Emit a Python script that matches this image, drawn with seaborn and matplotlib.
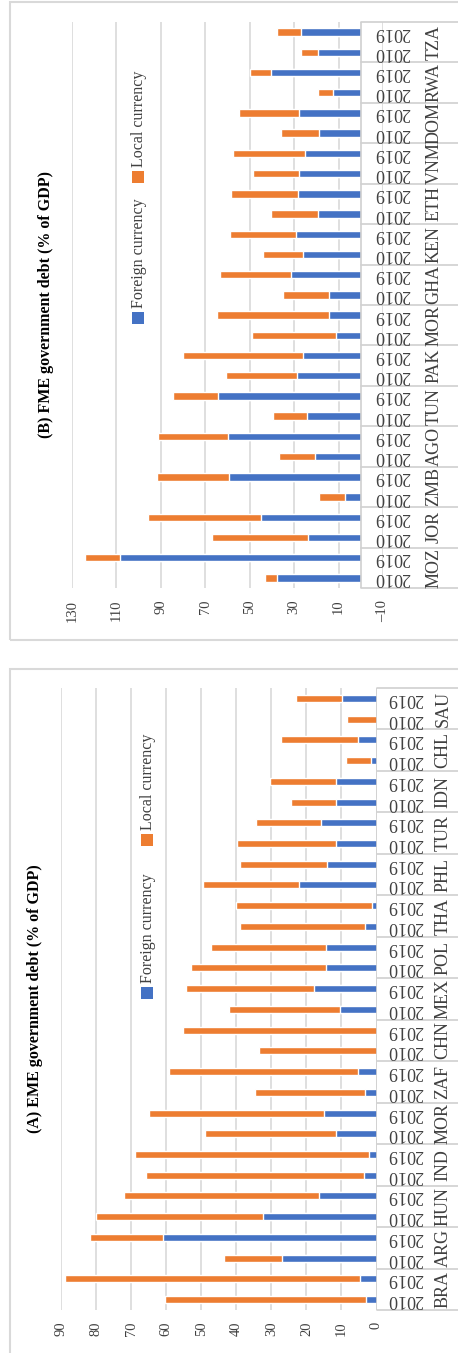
import pandas as pd
import matplotlib
matplotlib.use("Agg")
import matplotlib.pyplot as plt
import seaborn as sns
from matplotlib.patches import Rectangle
from matplotlib.transforms import blended_transform_factory

# ---- data (% of GDP), countries listed bottom -> top as in the picture ----
eme_countries = ["BRA", "ARG", "HUN", "IND", "MOR", "ZAF", "CHN", "MEX",
                 "POL", "THA", "PHL", "TUR", "IDN", "CHL", "SAU"]
eme_foreign_2010 = [3.0, 26.9, 32.3, 3.6, 11.5, 3.3, 0.0, 10.4, 14.4, 3.3, 22.1, 11.5, 11.5, 1.6, 0.0]
eme_local_2010 = [57.2, 16.5, 47.6, 62.2, 37.4, 31.3, 33.5, 31.6, 38.4, 35.6, 27.3, 28.2, 12.9, 7.1, 8.4]
eme_foreign_2019 = [4.7, 60.8, 16.4, 2.1, 15.0, 5.3, 0.0, 17.8, 14.4, 1.3, 14.1, 15.8, 11.5, 5.3, 9.8]
eme_local_2019 = [84.3, 20.8, 55.5, 66.9, 50.0, 53.9, 55.1, 36.5, 32.7, 38.7, 24.8, 18.5, 18.8, 21.9, 13.1]

fme_countries = ["MOZ", "JOR", "ZMB", "AGO", "TUN", "PAK", "MOR", "GHA",
                 "KEN", "ETH", "VNM", "DOM", "RWA", "TZA"]
fme_foreign_2010 = [37.5, 23.9, 7.2, 20.8, 24.4, 28.9, 11.3, 14.4, 26.2, 19.4, 28.0, 19.0, 12.6, 19.4]
fme_local_2010 = [5.8, 42.9, 11.8, 16.2, 14.9, 31.6, 37.5, 20.4, 18.0, 21.2, 20.3, 16.7, 6.8, 7.7]
fme_foreign_2019 = [108.4, 45.1, 59.1, 60.0, 64.1, 26.2, 14.4, 31.6, 29.3, 28.4, 25.3, 28.0, 40.2, 27.1]
fme_local_2019 = [15.6, 50.6, 32.5, 31.2, 20.3, 53.7, 50.2, 31.6, 29.4, 29.8, 32.0, 26.6, 9.5, 10.4]

years = ["2010", "2019"]
eme_ticks = list(range(0, 100, 10))
fme_ticks = list(range(-10, 150, 20))

BLUE = "#4472C4"
ORANGE = "#ED7D31"
GRID = "#d9d9d9"
TEXT = "#404040"

W, H = 458, 1353  # output size in pixels


def build_df(countries, f10, l10, f19, l19):
    rows = []
    for i, c in enumerate(countries):
        for yr, f, l in ((years[0], f10[i], l10[i]), (years[1], f19[i], l19[i])):
            rows.append({"key": f"{c} {yr}", "country": c, "year": yr,
                         "foreign": f, "total": f + l})
    return pd.DataFrame(rows)


def fx(px):  # pixel x -> figure fraction
    return px / W


def fy(py):  # pixel y (from top) -> figure fraction
    return 1 - py / H


def draw_panel(fig, rect, df, xlim, ticks, bar_w, title, title_xy,
               year_x, country_x, legend_pos):
    ax = fig.add_axes(rect)
    order = list(df["key"])[::-1]  # first entry is drawn at the top
    # stacked bars: total in orange, foreign part drawn over it in blue
    sns.barplot(data=df, x="total", y="key", order=order, orient="h",
                color=ORANGE, saturation=1, width=bar_w, errorbar=None, ax=ax)
    sns.barplot(data=df, x="foreign", y="key", order=order, orient="h",
                color=BLUE, saturation=1, width=bar_w, errorbar=None, ax=ax)
    n = len(order)
    ax.set_xlim(*xlim)
    ax.set_ylim(n - 0.5, -0.5)
    ax.set_xticks(ticks)
    ax.set_xticklabels([str(t).replace("-", "\u2013") for t in ticks])
    ax.tick_params(axis="x", labelrotation=90, length=0, pad=8.5,
                   labelsize=10.5, labelcolor=TEXT)
    ax.tick_params(axis="y", left=False, labelleft=False)
    ax.set_xlabel("")
    ax.set_ylabel("")
    ax.grid(axis="x", color=GRID, lw=1.2)
    ax.set_axisbelow(True)
    for s in ax.spines.values():
        s.set_visible(False)

    # category "table" on the right: axis line + group separators
    ax.axvline(0, color="#d0d0d0", lw=1.2, zorder=3)
    pos = ax.get_position()
    zero_fig = pos.x0 + pos.width * (xlim[0] - 0) / (xlim[0] - xlim[1])
    tr = blended_transform_factory(fig.transFigure, ax.transData)
    for b in range(0, n + 1, 2):
        ax.plot([zero_fig, 1.0], [b - 0.5, b - 0.5], transform=tr,
                color="#d0d0d0", lw=1.2, clip_on=False)
    for idx, key in enumerate(order):
        yr = key.split()[1]
        ax.text(fx(year_x), idx, yr, transform=tr, rotation=180,
                ha="center", va="center", fontsize=13, color=TEXT)
    for j in range(0, n, 2):
        c = order[j].split()[0]
        ax.text(fx(country_x), j + 0.5, c, transform=tr, rotation=90,
                ha="center", va="center", fontsize=13, color=TEXT)

    # title, rotated like the rest of the chart
    fig.text(fx(title_xy[0]), fy(title_xy[1]), title, rotation=90,
             ha="center", va="center", fontsize=11.5, fontweight="bold",
             color="black")

    # hand-made legend (rotated entries)
    for (sx, sy), label, col in zip(legend_pos, ["Foreign currency", "Local currency"],
                                    [BLUE, ORANGE]):
        fig.add_artist(Rectangle((fx(sx - 6), fy(sy + 6)), fx(12), 12 / H,
                                 transform=fig.transFigure, color=col, lw=0))
        fig.text(fx(sx + 1), fy(sy - 10), label, rotation=90, ha="center",
                 va="bottom", fontsize=11.5, color=TEXT)
    return ax


sns.set_style("white")
plt.rcParams["font.family"] = ["Liberation Serif", "DejaVu Serif"]

fig = plt.figure(figsize=(W / 100, H / 100), dpi=100)

# chart borders
fig.add_artist(Rectangle((fx(10), fy(640)), fx(470), 638 / H,
                         transform=fig.transFigure, fill=False,
                         edgecolor=GRID, lw=1.5))
fig.add_artist(Rectangle((fx(10), fy(1370)), fx(470), 701 / H,
                         transform=fig.transFigure, fill=False,
                         edgecolor=GRID, lw=1.5))

# (B) frontier markets - top panel
df_fme = build_df(fme_countries, fme_foreign_2010, fme_local_2010,
                  fme_foreign_2019, fme_local_2019)
draw_panel(fig, [fx(72), fy(588), fx(383 - 72), 566 / H], df_fme,
           (130, -10), fme_ticks, 0.37,
           "(B) FME government debt (% of GDP)", (46, 305),
           year_x=392, country_x=434,
           legend_pos=[(138, 318), (138, 177)])

# (A) emerging markets - bottom panel
df_eme = build_df(eme_countries, eme_foreign_2010, eme_local_2010,
                  eme_foreign_2019, eme_local_2019)
draw_panel(fig, [fx(61), fy(1310), fx(376.5 - 61), 622 / H], df_eme,
           (90, 0), eme_ticks, 0.34,
           "(A) EME government debt (% of GDP)", (35, 999),
           year_x=405, country_x=443,
           legend_pos=[(147, 993), (147, 840)])

fig.savefig("out.png", dpi=100)
plt.close(fig)
